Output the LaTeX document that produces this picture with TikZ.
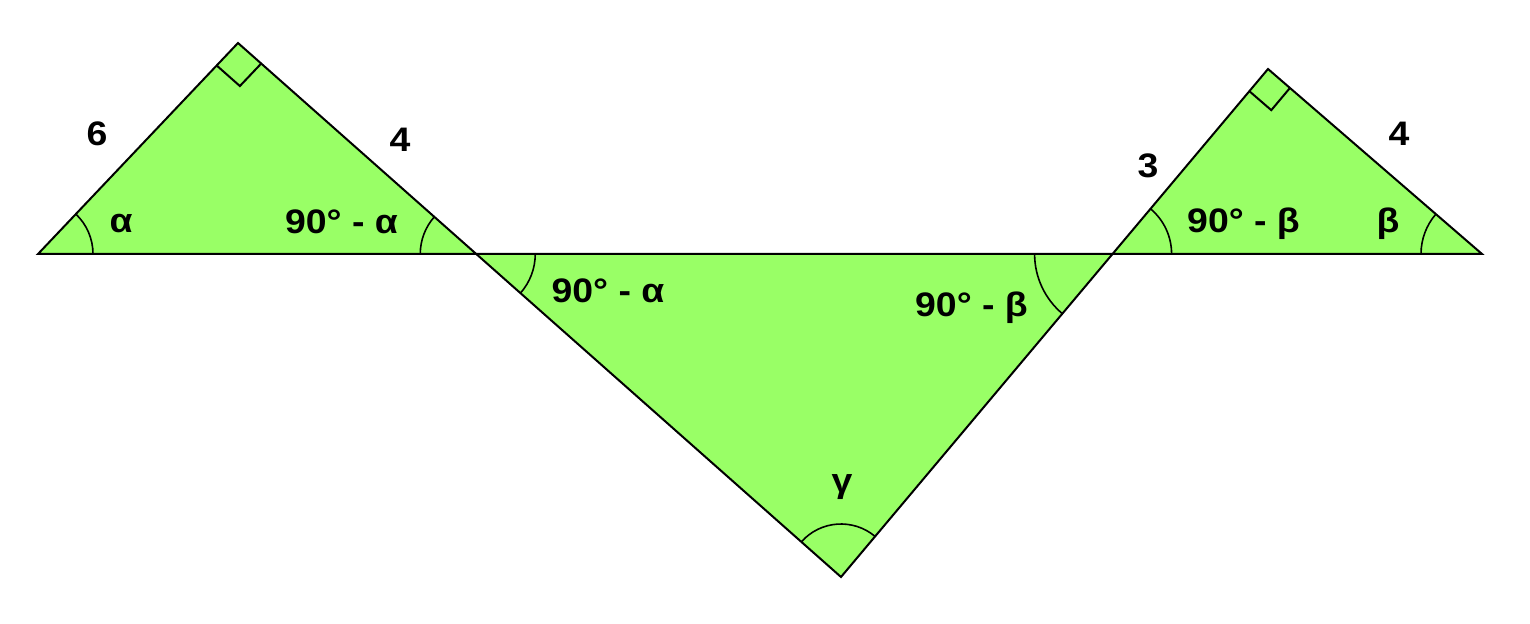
\documentclass[tikz,border=0pt]{standalone}
\usepackage{fontspec}
\setmainfont{Liberation Sans}[FakeStretch = 1.1]
\usetikzlibrary{angles}
\definecolor{trigreen}{RGB}{153,255,102}

\begin{document}
\begin{tikzpicture}[x = 0.5pt, y = -0.5pt, line width = 1pt,
	 lbl/.style = {font = \bfseries\fontsize{17}{20}\selectfont, inner sep = 0pt},
	 angarc/.style = {draw, line width = 0.8pt, angle radius = #1},
	 rightmark/.style = {draw, line width = 1pt, angle radius = #1}]
	 \useasboundingbox (0, 0) rectangle (1530, 624);

	 \coordinate (P1) at (38, 254);
	 \coordinate (P2) at (1482, 254);
	 \coordinate (L) at (238, 43);
	 \coordinate (R) at (1268, 69);
	 \coordinate (B) at (841, 577);
	 \coordinate (M1) at (intersection of L--B and P1--P2);
	 \coordinate (M2) at (intersection of R--B and P1--P2);

	 \fill[trigreen] (P1) -- (L) -- (M1) -- cycle;
	 \fill[trigreen] (M1) -- (B) -- (M2) -- cycle;
	 \fill[trigreen] (M2) -- (R) -- (P2) -- cycle;
	 \draw (P1) -- (L) -- (B) -- (R) -- (P2) -- cycle;

	 \pic[rightmark = 15.5pt] {right angle = P1--L--M1};
	 \pic[rightmark = 14.5pt] {right angle = M2--R--P2};

	 \pic[angarc = 27.5pt] {angle = M1--P1--L};
	 \pic[angarc = 28pt] {angle = L--M1--P1};
	 \pic[angarc = 29.5pt] {angle = B--M1--M2};
	 \pic[angarc = 39pt] {angle = M1--M2--B};
	 \pic[angarc = 26.5pt] {angle = M2--B--M1};
	 \pic[angarc = 29.5pt] {angle = P2--M2--R};
	 \pic[angarc = 30.5pt] {angle = R--P2--M2};

	 \node[lbl] (sideA) at (97, 134) {6};
	 \node[lbl] (sideB) at (400, 140) {4};
	 \node[lbl] (sideC) at (1148, 166) {3};
	 \node[lbl] (sideD) at (1399, 134) {4};

	 \node[lbl] (alphaL) at (121, 224) {α};
	 \node[lbl, anchor = base] (compAL) at (341.5, 234) {90° - α};
	 \node[lbl, anchor = base] (compAM) at (608, 303) {90° - α};
	 \node[lbl, anchor = base] (compBM) at (971.5, 317) {90° - β};
	 \node[lbl, anchor = base] (gammaM) at (842, 493) {γ};
	 \node[lbl, anchor = base] (compBR) at (1243.5, 233) {90° - β};
	 \node[lbl, anchor = base] (betaR) at (1388, 233) {β};
\end{tikzpicture}
\end{document}
